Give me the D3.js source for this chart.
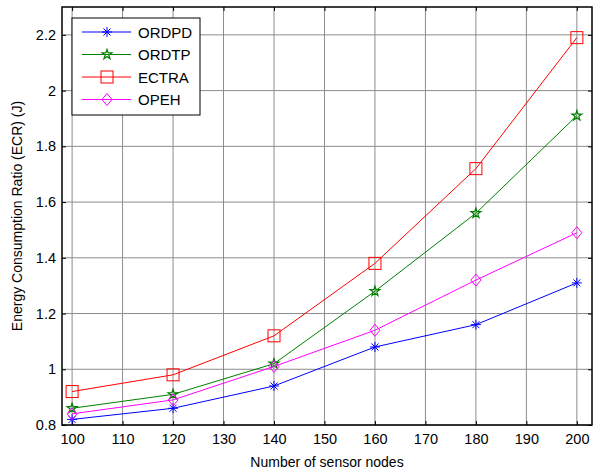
<!DOCTYPE html>
<html>
<head>
<meta charset="utf-8">
<script src="https://cdn.jsdelivr.net/npm/d3@7"></script>
<style>
  body { margin: 0; background: #fff; }
  text { font-family: "Liberation Sans", Arial, sans-serif; }
</style>
</head>
<body>
<div id="chart"></div>
<script>
const nodes = [100, 120, 140, 160, 180, 200];
const ordpd = [0.82, 0.86, 0.94, 1.08, 1.16, 1.31];
const ordtp = [0.86, 0.91, 1.02, 1.28, 1.56, 1.91];
const ectra = [0.92, 0.98, 1.12, 1.38, 1.72, 2.19];
const opeh = [0.84, 0.89, 1.01, 1.14, 1.32, 1.49];
const xTicks = [100, 110, 120, 130, 140, 150, 160, 170, 180, 190, 200];
const yTicks = [0.8, 1, 1.2, 1.4, 1.6, 1.8, 2, 2.2];

const series = [
  { name: 'ORDPD', values: ordpd, color: '#0000ff', marker: 'star' },
  { name: 'ORDTP', values: ordtp, color: '#008000', marker: 'pentagram' },
  { name: 'ECTRA', values: ectra, color: '#ff0000', marker: 'square' },
  { name: 'OPEH', values: opeh, color: '#ff00ff', marker: 'diamond' }
];

const width = 594, height = 470;
const margin = { top: 7, right: 2, bottom: 45, left: 62 };

const svg = d3.select('#chart').append('svg')
  .attr('width', width)
  .attr('height', height);

const x = d3.scaleLinear().domain([98, 203]).range([margin.left, width - margin.right]);
const y = d3.scaleLinear().domain([0.8, 2.3]).range([height - margin.bottom, margin.top]);

const x0 = margin.left, x1 = width - margin.right;
const y0 = height - margin.bottom, y1 = margin.top;

// grid
svg.append('g').selectAll('line.gx')
  .data(xTicks)
  .enter().append('line')
    .attr('x1', d => x(d)).attr('x2', d => x(d))
    .attr('y1', y0).attr('y2', y1)
    .attr('stroke', '#8c8c8c').attr('stroke-width', 1);
svg.append('g').selectAll('line.gy')
  .data(yTicks)
  .enter().append('line')
    .attr('x1', x0).attr('x2', x1)
    .attr('y1', d => y(d)).attr('y2', d => y(d))
    .attr('stroke', '#8c8c8c').attr('stroke-width', 1);

// axes with inward ticks
let xAxis = svg.append('g')
  .attr('transform', `translate(0, ${y0})`)
  .call(d3.axisBottom(x).tickValues(xTicks).tickSizeInner(-4).tickSizeOuter(0).tickPadding(9));
let yAxis = svg.append('g')
  .attr('transform', `translate(${x0}, 0)`)
  .call(d3.axisLeft(y).tickValues(yTicks).tickFormat(d3.format('')).tickSizeInner(-4).tickSizeOuter(0).tickPadding(6));
let xTop = svg.append('g')
  .attr('transform', `translate(0, ${y1})`)
  .call(d3.axisTop(x).tickValues(xTicks).tickSizeInner(-4).tickSizeOuter(0).tickFormat(''));
let yRight = svg.append('g')
  .attr('transform', `translate(${x1}, 0)`)
  .call(d3.axisRight(y).tickValues(yTicks).tickSizeInner(-4).tickSizeOuter(0).tickFormat(''));

[xAxis, yAxis, xTop, yRight].forEach(a => {
  a.select('.domain').remove();
  a.selectAll('line').attr('stroke', '#000');
  a.selectAll('text').style('font-size', '14.5px').attr('fill', '#000');
});

svg.append('rect')
  .attr('x', x0).attr('y', y1)
  .attr('width', x1 - x0).attr('height', y0 - y1)
  .attr('fill', 'none').attr('stroke', '#000').attr('stroke-width', 1.5);

// titles
svg.append('text')
  .attr('x', (x0 + x1) / 2).attr('y', 467)
  .style('text-anchor', 'middle')
  .style('font-size', '14px')
  .text('Number of sensor nodes');
svg.append('text')
  .attr('transform', `translate(22, ${(y0 + y1) / 2}) rotate(-90)`)
  .style('text-anchor', 'middle')
  .style('font-size', '14px')
  .text('Energy Consumption Ratio (ECR) (J)');

function drawMarker(g, type, color) {
  if (type === 'star') {
    const r = 5;
    g.append('path')
      .attr('d', `M${-r},0H${r}M0,${-r}V${r}M${-r * 0.7},${-r * 0.7}L${r * 0.7},${r * 0.7}M${-r * 0.7},${r * 0.7}L${r * 0.7},${-r * 0.7}`)
      .attr('stroke', color).attr('fill', 'none').attr('stroke-width', 1);
  } else if (type === 'pentagram') {
    g.append('path')
      .attr('d', d3.symbol().type(d3.symbolStar).size(30)())
      .attr('stroke', color).attr('fill', 'none').attr('stroke-width', 1.2);
  } else if (type === 'square') {
    g.append('rect')
      .attr('x', -6).attr('y', -6).attr('width', 12).attr('height', 12)
      .attr('stroke', color).attr('fill', 'none').attr('stroke-width', 1);
  } else if (type === 'diamond') {
    g.append('path')
      .attr('d', 'M0,-6L5,0L0,6L-5,0Z')
      .attr('stroke', color).attr('fill', 'none').attr('stroke-width', 1);
  }
}

const line = d3.line().x((d, i) => x(nodes[i])).y(d => y(d));

series.forEach(s => {
  svg.append('path')
    .datum(s.values)
    .attr('d', line)
    .attr('fill', 'none')
    .attr('stroke', s.color)
    .attr('stroke-width', 1);
  s.values.forEach((v, i) => {
    let g = svg.append('g').attr('transform', `translate(${x(nodes[i])}, ${y(v)})`);
    drawMarker(g, s.marker, s.color);
  });
});

// legend
let legend = svg.append('g').attr('transform', 'translate(72, 18)');
legend.append('rect')
  .attr('width', 128).attr('height', 97)
  .attr('fill', '#fff').attr('stroke', '#000').attr('stroke-width', 1);
series.forEach((s, i) => {
  let row = legend.append('g').attr('transform', `translate(0, ${14 + i * 22.5})`);
  row.append('line')
    .attr('x1', 10).attr('x2', 59)
    .attr('stroke', s.color).attr('stroke-width', 1);
  drawMarker(row.append('g').attr('transform', 'translate(35, 0)'), s.marker, s.color);
  row.append('text')
    .attr('x', 66).attr('y', 5.5)
    .style('font-size', '15px')
    .text(s.name);
});
</script>
</body>
</html>
